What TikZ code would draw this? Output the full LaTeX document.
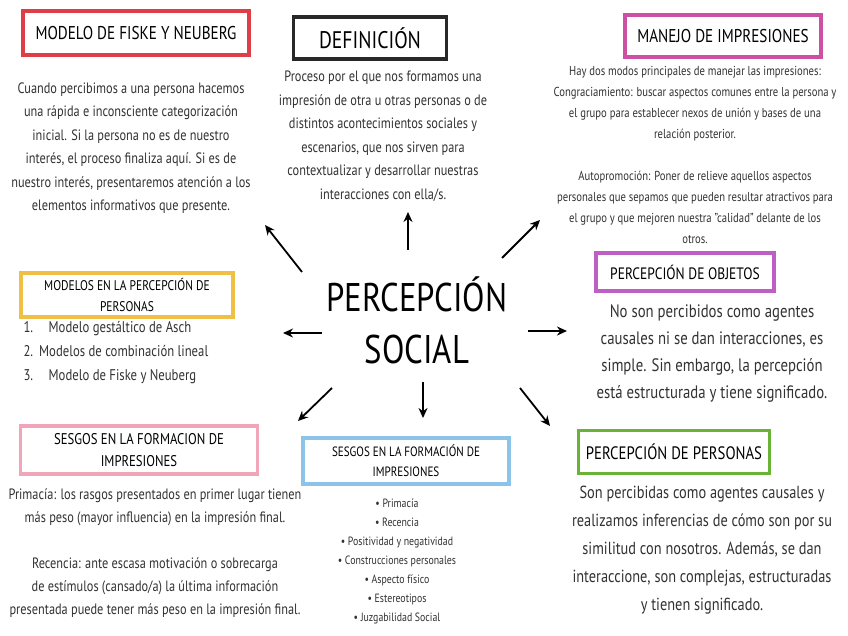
\documentclass[tikz,border=0pt]{standalone}
\usepackage{fontspec}
\setmainfont[FakeStretch=0.82]{PT Sans}
\usetikzlibrary{arrows.meta}
\definecolor{cred}{RGB}{222,62,72}
\definecolor{cblack}{RGB}{40,40,40}
\definecolor{cmag}{RGB}{205,80,165}
\definecolor{cgold}{RGB}{240,192,70}
\definecolor{cpurp}{RGB}{190,95,195}
\definecolor{cpink}{RGB}{240,165,185}
\definecolor{cblue}{RGB}{140,195,232}
\definecolor{cgreen}{RGB}{105,180,55}
\definecolor{txt}{RGB}{50,50,50}
\tikzset{
 titlebox/.style={draw=#1,line width=3.5pt,rectangle,inner sep=0pt,align=center,text=black},
 body/.style={align=center,text=txt,font=\fontsize{14}{23}\selectfont},
 arr/.style={-{Stealth[length=10pt,width=9pt]},line width=1.8pt,black}
}
\begin{document}
\begin{tikzpicture}[x=1pt,y=-1pt]
\useasboundingbox (0,0) rectangle (848,636);
\fill[white] (0,0) rectangle (848,636);
% title boxes
\node[titlebox=cred,minimum width=226,minimum height=44,font=\fontsize{18.5}{20}\selectfont] (fiske) at (136,33) {MODELO DE FISKE Y NEUBERG};
\node[titlebox=cblack,minimum width=153,minimum height=42,font=\fontsize{24}{26}\selectfont] (def) at (370,38) {DEFINICIÓN};
\node[titlebox=cmag,minimum width=196,minimum height=42,font=\fontsize{18.5}{20}\selectfont] (man) at (723,36) {MANEJO DE IMPRESIONES};
\node[titlebox=cgold,minimum width=212,minimum height=44,font=\fontsize{14}{21}\selectfont] (mod) at (127,295) {MODELOS EN LA PERCEPCIÓN DE\\PERSONAS};
\node[titlebox=cpurp,minimum width=178,minimum height=38,font=\fontsize{16.5}{18}\selectfont] (obj) at (685,272) {PERCEPCIÓN DE OBJETOS};
\node[titlebox=cpink,minimum width=237,minimum height=48,font=\fontsize{15.5}{22}\selectfont] (sesl) at (139,450) {SESGOS EN LA FORMACION DE\\IMPRESIONES};
\node[titlebox=cblue,minimum width=206,minimum height=46,font=\fontsize{13.5}{20}\selectfont] (sesm) at (406,461) {SESGOS EN LA FORMACIÓN DE\\IMPRESIONES};
\node[titlebox=cgreen,minimum width=191,minimum height=43,font=\fontsize{18}{20}\selectfont] (per) at (674,452) {PERCEPCIÓN DE PERSONAS};
% center
\node[align=center,font=\fontsize{40}{52}\selectfont,text=black] (c) at (417,320) {PERCEPCIÓN\\SOCIAL};
% bodies
\node[body,font=\fontsize{15}{23.5}\selectfont] (tf) at (131,148) {Cuando percibimos a una persona hacemos\\una rápida e inconsciente categorización\\inicial. Si la persona no es de nuestro\\interés, el proceso finaliza aquí. Si es de\\nuestro interés, presentaremos atención a los\\elementos informativos que presente.};
\node[body,font=\fontsize{15}{23.5}\selectfont] (td) at (383,136) {Proceso por el que nos formamos una\\impresión de otra u otras personas o de\\distintos acontecimientos sociales y\\escenarios, que nos sirven para\\contextualizar y desarrollar nuestras\\interacciones con ella/s.};
\node[body,font=\fontsize{13}{21}\selectfont] (tm) at (695,155) {Hay dos modos principales de manejar las impresiones:\\Congraciamiento: buscar aspectos comunes entre la persona y\\el grupo para establecer nexos de unión y bases de una\\relación posterior.\\[21pt]Autopromoción: Poner de relieve aquellos aspectos\\personales que sepamos que pueden resultar atractivos para\\el grupo y que mejoren nuestra "calidad" delante de los\\otros.};
\node[body,align=left,anchor=north west,font=\fontsize{15.5}{24}\selectfont] (tmo) at (20,318) {1.\quad Modelo gestáltico de Asch\\2.\ \,Modelos de combinación lineal\\3.\quad Modelo de Fiske y Neuberg};
\node[body,font=\fontsize{18}{27}\selectfont] (to) at (712,354) {No son percibidos como agentes\\causales ni se dan interacciones, es\\simple. Sin embargo, la percepción\\está estructurada y tiene significado.};
\node[body,font=\fontsize{15}{23}\selectfont] (tsl) at (155,553) {Primacía: los rasgos presentados en primer lugar tienen\\más peso (mayor influencia) en la impresión final.\\[23pt]Recencia: ante escasa motivación o sobrecarga\\de estímulos (cansado/a) la última información\\presentada puede tener más peso en la impresión final.};
\node[body,font=\fontsize{12}{19}\selectfont] (tsm) at (397,561) {• Primacía\\• Recencia\\• Positividad y negatividad\\• Construcciones personales\\• Aspecto físico\\• Estereotipos\\• Juzgabilidad Social};
\node[body,font=\fontsize{17.5}{28}\selectfont] (tp) at (702,550) {Son percibidas como agentes causales y\\realizamos inferencias de cómo son por su\\similitud con nosotros. Además, se dan\\interaccione, son complejas, estructuradas\\y tienen significado.};
% arrows
\coordinate (a1s) at (302,272); \coordinate (a1e) at (265,225);
\coordinate (a2s) at (408,250); \coordinate (a2e) at (408,212);
\coordinate (a3s) at (502,258); \coordinate (a3e) at (540,220);
\coordinate (a4s) at (322,333); \coordinate (a4e) at (283,333);
\coordinate (a5s) at (528,331); \coordinate (a5e) at (567,331);
\coordinate (a6s) at (332,388); \coordinate (a6e) at (298,421);
\coordinate (a7s) at (423,382); \coordinate (a7e) at (423,418);
\coordinate (a8s) at (520,388); \coordinate (a8e) at (550,426);
\foreach \i in {1,...,8} \draw[arr] (a\i s) -- (a\i e);
\end{tikzpicture}
\end{document}
